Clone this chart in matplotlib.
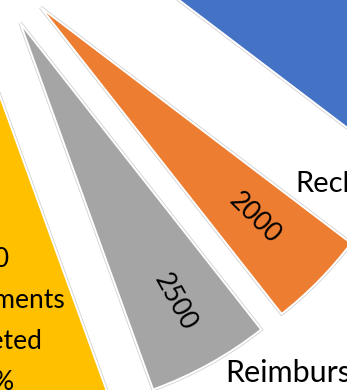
import numpy as np
import matplotlib
matplotlib.use("Agg")
import matplotlib.pyplot as plt

plt.rcParams["font.family"] = ["Lato", "DejaVu Sans"]

# Transaction mix
categories = ["Payments Received", "Recharges", "Reimbursements",
              "Disbursements Completed", "Transfers", "Refunds"]
values = [16600, 2000, 2500, 5300, 13400, 9500]
colors = ["#4472C4", "#ED7D31", "#A5A5A5", "#FFC000", "#5B9BD5", "#70AD47"]

fig = plt.figure(figsize=(3.47, 3.90), dpi=100)
ax = fig.add_axes([0, 0, 1, 1])

explode = [0.23] * len(values)
pie_kw = dict(startangle=84, counterclock=False, explode=explode,
              colors=colors, frame=True)

# light grey halo under a white slice border
ax.pie(values, wedgeprops=dict(edgecolor="#cdcdcd", linewidth=2.5), **pie_kw)
wedges, _ = ax.pie(values, wedgeprops=dict(edgecolor="white", linewidth=1.45),
                   **pie_kw)

# value labels running along the slice direction
value_pos = {1: 0.77, 2: 0.82}
for i, frac in value_pos.items():
    w = wedges[i]
    th = np.deg2rad(0.5 * (w.theta1 + w.theta2))
    cx, cy = w.center
    ax.text(cx + frac * np.cos(th), cy + frac * np.sin(th), f"{values[i]}",
            rotation=np.rad2deg(th), rotation_mode="anchor",
            ha="center", va="center", fontsize=19, color="black")

# full label inside the yellow slice
w = wedges[3]
th = np.deg2rad(0.5 * (w.theta1 + w.theta2))
cx, cy = w.center
share = 100 * values[3] / sum(values)
name = categories[3].replace(" ", "\n")
ax.text(cx + 0.735 * np.cos(th) - 0.004, cy + 0.735 * np.sin(th),
        f"{values[3]}\n{name}\n{share:.1f}%",
        ha="center", va="center", fontsize=19, linespacing=1.8,
        color="black")

# category names
ax.text(0.8164, -0.6338, categories[1], ha="left", va="baseline",
        fontsize=21, color="black")
ax.text(0.6369, -1.1210, categories[2], ha="left", va="baseline",
        fontsize=22, color="black")

ax.set_xlim(0.06, 0.9497)
ax.set_ylim(-1.1423, -0.1423)
ax.set_aspect("equal")
ax.axis("off")

fig.savefig("out.png", dpi=100, facecolor="white")
